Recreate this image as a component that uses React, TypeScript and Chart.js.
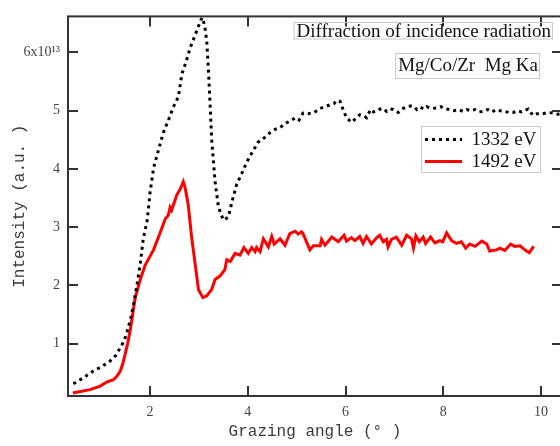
import React, { useEffect, useRef } from "react";
import { Chart, registerables } from "chart.js";

Chart.register(...registerables);

// ---- data ----
const xTicks = [2, 4, 6, 8, 10];
const yTicks = [1, 2, 3, 4, 5, 6];

const seriesLabels = ["1332 eV", "1492 eV"];

const blackX = [0.43, 0.65, 0.84, 1.0, 1.18, 1.3, 1.39, 1.47, 1.53, 1.6, 1.66, 1.73, 1.8, 1.86, 1.94, 2.0, 2.07, 2.14, 2.27, 2.38, 2.48, 2.58, 2.65, 2.74, 2.82, 2.95, 3.04, 3.07, 3.12, 3.16, 3.2, 3.23, 3.26, 3.33, 3.4, 3.5, 3.6, 3.68, 3.77, 3.88, 3.98, 4.08, 4.21, 4.33, 4.45, 4.56, 4.66, 4.76, 4.86, 4.98, 5.05, 5.13, 5.24, 5.34, 5.41, 5.48, 5.58, 5.68, 5.76, 5.83, 5.89, 5.95, 6.02, 6.12, 6.23, 6.29, 6.36, 6.43, 6.51, 6.57, 6.64, 6.71, 6.77, 6.84, 6.91, 6.98, 7.08, 7.18, 7.25, 7.32, 7.39, 7.46, 7.53, 7.6, 7.66, 7.72, 7.79, 7.87, 7.95, 8.05, 8.13, 8.22, 8.31, 8.4, 8.48, 8.57, 8.65, 8.74, 8.82, 8.91, 9.0, 9.08, 9.16, 9.25, 9.34, 9.43, 9.52, 9.6, 9.68, 9.74, 9.79, 9.84, 9.92, 10.04, 10.15, 10.25, 10.35, 10.45];
const blackY = [0.31, 0.42, 0.53, 0.6, 0.7, 0.8, 0.93, 1.05, 1.21, 1.42, 1.66, 2.0, 2.38, 2.8, 3.11, 3.6, 4.01, 4.23, 4.62, 4.85, 5.07, 5.24, 5.63, 5.85, 6.08, 6.36, 6.56, 6.6, 6.45, 6.19, 5.6, 5.07, 4.51, 3.78, 3.34, 3.12, 3.17, 3.45, 3.73, 3.93, 4.12, 4.27, 4.46, 4.53, 4.62, 4.68, 4.71, 4.78, 4.82, 4.88, 4.84, 4.96, 4.95, 4.96, 5.0, 5.04, 5.07, 5.1, 5.12, 5.18, 5.16, 5.02, 4.88, 4.8, 4.88, 4.93, 4.92, 4.88, 5.02, 4.98, 4.99, 5.03, 5.04, 4.99, 5.03, 5.02, 4.97, 5.04, 5.06, 5.08, 5.08, 5.02, 5.06, 5.03, 5.07, 5.05, 5.04, 5.05, 5.07, 5.03, 5.02, 5.0, 5.02, 4.99, 5.02, 5.0, 5.02, 4.98, 4.99, 5.02, 4.98, 5.02, 5.0, 4.99, 4.97, 4.97, 5.0, 4.98, 5.01, 5.03, 4.97, 4.92, 4.95, 4.95, 4.97, 4.96, 4.94, 4.95];

const redX = [0.42, 0.6, 0.77, 0.98, 1.11, 1.25, 1.32, 1.39, 1.44, 1.49, 1.54, 1.59, 1.64, 1.69, 1.75, 1.8, 1.9, 2.07, 2.2, 2.31, 2.37, 2.41, 2.44, 2.55, 2.61, 2.68, 2.72, 2.78, 2.85, 2.92, 2.99, 3.08, 3.16, 3.26, 3.33, 3.43, 3.53, 3.57, 3.64, 3.74, 3.84, 3.92, 4.01, 4.08, 4.15, 4.18, 4.25, 4.32, 4.42, 4.49, 4.54, 4.66, 4.76, 4.86, 4.97, 5.03, 5.1, 5.13, 5.2, 5.27, 5.34, 5.48, 5.51, 5.58, 5.72, 5.85, 5.97, 6.02, 6.12, 6.19, 6.29, 6.36, 6.43, 6.53, 6.64, 6.7, 6.77, 6.84, 6.87, 6.94, 7.04, 7.15, 7.25, 7.35, 7.39, 7.44, 7.51, 7.56, 7.59, 7.64, 7.74, 7.83, 7.93, 7.99, 8.07, 8.17, 8.27, 8.37, 8.46, 8.54, 8.65, 8.79, 8.89, 8.95, 9.09, 9.16, 9.26, 9.38, 9.46, 9.57, 9.67, 9.76, 9.85];
const redY = [0.15, 0.18, 0.21, 0.27, 0.34, 0.38, 0.44, 0.53, 0.65, 0.82, 1.0, 1.21, 1.48, 1.77, 1.95, 2.1, 2.35, 2.61, 2.89, 3.14, 3.2, 3.34, 3.29, 3.56, 3.64, 3.78, 3.67, 3.39, 2.83, 2.38, 1.93, 1.79, 1.82, 1.93, 2.1, 2.16, 2.27, 2.44, 2.41, 2.55, 2.52, 2.65, 2.55, 2.65, 2.58, 2.65, 2.58, 2.8, 2.66, 2.84, 2.71, 2.8, 2.69, 2.89, 2.93, 2.88, 2.92, 2.89, 2.75, 2.61, 2.68, 2.68, 2.79, 2.69, 2.83, 2.75, 2.86, 2.76, 2.82, 2.77, 2.84, 2.72, 2.84, 2.71, 2.82, 2.86, 2.75, 2.79, 2.66, 2.79, 2.83, 2.69, 2.86, 2.8, 2.64, 2.85, 2.75, 2.8, 2.83, 2.72, 2.83, 2.73, 2.77, 2.75, 2.9, 2.77, 2.72, 2.75, 2.64, 2.71, 2.67, 2.76, 2.71, 2.59, 2.61, 2.64, 2.6, 2.71, 2.67, 2.68, 2.61, 2.56, 2.67];

const xTitle = "Grazing angle (° )";
const yTitle = "Intensity (a.u. )";
const note1 = "Diffraction of incidence radiation";
const note2 = "Mg/Co/Zr  Mg Ka";

const toPoints = (xs: number[], ys: number[]) => xs.map((x, i) => ({ x, y: ys[i] }));

const SERIF = '"Liberation Serif", "Times New Roman", serif';
const MONO = '"Liberation Mono", "DejaVu Sans Mono", monospace';

const framePlugin = {
  id: "frameAndNotes",
  afterDraw(chart: any) {
    const { ctx, chartArea } = chart;
    const { left, right, top, bottom } = chartArea;
    const xs = chart.scales.x;
    const ys = chart.scales.y;
    ctx.save();
    // frame
    ctx.strokeStyle = "#333";
    ctx.lineWidth = 2;
    ctx.strokeRect(left, top, right - left, bottom - top);
    // inward ticks
    ctx.lineWidth = 2;
    const TL = 10;
    xTicks.forEach((v) => {
      const p = Math.round(xs.getPixelForValue(v));
      ctx.beginPath();
      ctx.moveTo(p, bottom);
      ctx.lineTo(p, bottom - TL);
      ctx.moveTo(p, top);
      ctx.lineTo(p, top + TL);
      ctx.stroke();
    });
    yTicks.forEach((v) => {
      const p = Math.round(ys.getPixelForValue(v));
      ctx.beginPath();
      ctx.moveTo(left, p);
      ctx.lineTo(left + TL, p);
      ctx.moveTo(right, p);
      ctx.lineTo(right - TL, p);
      ctx.stroke();
    });

    // axis titles
    ctx.fillStyle = "#3a3a3a";
    ctx.font = `16px ${MONO}`;
    ctx.textAlign = "center";
    ctx.textBaseline = "middle";
    ctx.fillText(xTitle, (left + right) / 2, 432);
    ctx.save();
    ctx.translate(20, (top + bottom) / 2);
    ctx.rotate(-Math.PI / 2);
    ctx.fillText(yTitle, 0, 0);
    ctx.restore();

    // notes
    ctx.font = `19px ${SERIF}`;
    ctx.textAlign = "right";
    ctx.textBaseline = "alphabetic";
    ctx.fillStyle = "#111";
    ctx.strokeStyle = "#c8c8c8";
    ctx.lineWidth = 1;
    const w1 = ctx.measureText(note1).width;
    ctx.fillText(note1, 551, 36.5);
    ctx.strokeRect(551 - w1 - 2.5, 22.5, w1 + 4, 16.5);
    const w2 = ctx.measureText(note2).width;
    ctx.fillText(note2, 538, 71);
    ctx.strokeRect(538 - w2 - 2.5, 53.5, w2 + 4, 25);

    // legend
    ctx.strokeRect(421.5, 126.5, 119, 46);
    const entries = [
      { y: 139.5, color: "#000", dash: [3, 4], w: 3 },
      { y: 161.5, color: "#ff0000", dash: [], w: 3 },
    ];
    entries.forEach((e, i) => {
      ctx.save();
      ctx.strokeStyle = e.color;
      ctx.lineWidth = e.w;
      ctx.setLineDash(e.dash);
      ctx.beginPath();
      ctx.moveTo(425, e.y);
      ctx.lineTo(462, e.y);
      ctx.stroke();
      ctx.restore();
      ctx.textAlign = "left";
      ctx.textBaseline = "middle";
      ctx.fillStyle = "#111";
      ctx.fillText(seriesLabels[i], 471.5, e.y + 0.5);
    });
    ctx.restore();
  },
};

export default function App() {
  const ref = useRef<HTMLCanvasElement | null>(null);
  useEffect(() => {
    if (!ref.current) return;
    const chart = new Chart(ref.current, {
      type: "line",
      data: {
        datasets: [
          {
            label: seriesLabels[0],
            data: toPoints(blackX, blackY),
            borderColor: "#000",
            borderWidth: 3,
            borderDash: [3, 4],
            borderCapStyle: "butt",
            pointRadius: 0,
            tension: 0,
            fill: false,
          },
          {
            label: seriesLabels[1],
            data: toPoints(redX, redY),
            borderColor: "#ff0000",
            borderWidth: 3,
            pointRadius: 0,
            tension: 0,
            fill: false,
          },
        ],
      },
      options: {
        animation: false,
        responsive: false,
        devicePixelRatio: 1,
        layout: { padding: { top: 8, right: 13, left: 0, bottom: 0 } },
        plugins: { legend: { display: false }, tooltip: { enabled: false } },
        scales: {
          x: {
            type: "linear",
            min: 0.32,
            max: 10.43,
            grid: { display: false, drawTicks: false },
            border: { display: false },
            afterFit: (s: any) => {
              s.height = 50;
            },
            afterBuildTicks: (s: any) => {
              s.ticks = xTicks.map((v) => ({ value: v }));
            },
            ticks: {
              padding: 8,
              color: "#444",
              font: { family: SERIF, size: 14 },
              maxRotation: 0,
              autoSkip: false,
              callback: (v: any) => String(v),
            },
          },
          y: {
            type: "linear",
            min: 0.1,
            max: 6.62,
            grid: { display: false, drawTicks: false },
            border: { display: false },
            afterFit: (s: any) => {
              s.width = 68;
            },
            afterBuildTicks: (s: any) => {
              s.ticks = yTicks.map((v) => ({ value: v }));
            },
            ticks: {
              padding: 8,
              color: "#444",
              font: { family: SERIF, size: 14 },
              autoSkip: false,
              callback: (v: any) => (v === 6 ? "6x10¹³" : String(v)),
            },
          },
        },
      },
      plugins: [framePlugin],
    });
    return () => chart.destroy();
  }, []);
  return (
    <div
      style={{
        position: "absolute",
        left: 0,
        top: 0,
        width: 560,
        height: 446,
        overflow: "hidden",
        background: "#fff",
      }}
    >
      <canvas ref={ref} width={575} height={446} style={{ display: "block", width: 575, height: 446 }} />
    </div>
  );
}
